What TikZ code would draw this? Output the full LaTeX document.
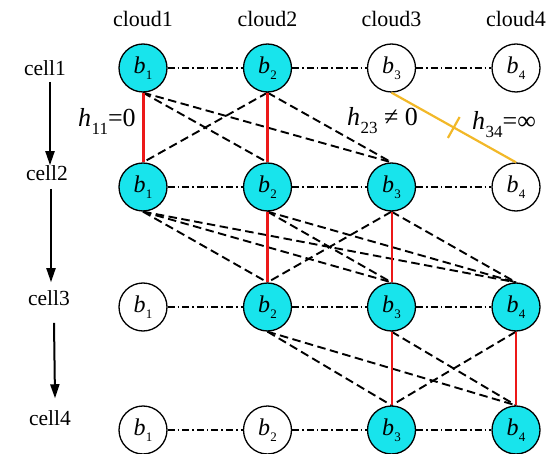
\documentclass[tikz,border=0pt]{standalone}
\usepackage{fontspec}
\setmainfont{Liberation Serif}
\usetikzlibrary{arrows.meta,decorations.markings}

\definecolor{bscyan}{RGB}{24,228,236}
\definecolor{linkred}{RGB}{236,24,24}
\definecolor{linkgold}{RGB}{242,184,40}

% b_i inside a base-station circle
\newcommand\bsub[1]{\textit{b}\kern0.3pt\raisebox{-5.5pt}{\fontsize{13}{13}\selectfont #1}}
% h_{ij} channel label
\newcommand\hsub[1]{\textit{h}\kern0.5pt\raisebox{-8pt}{\fontsize{17}{17}\selectfont #1}}

\tikzset{
  bs/.style={circle, draw, line width=1.3pt, minimum size=48pt, inner sep=0pt,
             font=\fontsize{24}{24}\selectfont},
  bson/.style={bs, fill=bscyan},
  bsoff/.style={bs, fill=white},
  head/.style={font=\fontsize{22}{22}\selectfont},
  celllab/.style={font=\fontsize{21.5}{21.5}\selectfont, inner sep=0pt},
  hlab/.style={anchor=base west, inner sep=0pt, font=\fontsize{26}{26}\selectfont},
  ring/.style={line width=1.2pt, dash pattern=on 7pt off 3pt on 1.6pt off 3pt},
  cross/.style={line width=1.9pt, dash pattern=on 8.5pt off 4.5pt},
  keep/.style={linkred, line width=#1},
  keep/.default=3pt,
  flow/.style={line width=2pt, -{Triangle[length=14pt,width=9pt]}},
  blocked/.style={linkgold, line width=2.2pt,
    postaction={decorate, decoration={markings,
      mark=at position 0.5 with {\draw[linkgold, line width=2.2pt] (0,-12pt) -- (0,12pt);}}}},
}

\begin{document}
\begin{tikzpicture}[x=1pt, y=-1pt]
\useasboundingbox (0,0) rectangle (551,454);

% column headings
\node[head] (h1) at (143,19) {cloud1};
\node[head] (h2) at (267.5,19) {cloud2};
\node[head] (h3) at (391.5,19) {cloud3};
\node[head] (h4) at (516,19) {cloud4};

% row labels
\node[celllab] (c1) at (45,68) {cell1};
\node[celllab] (c2) at (47,173) {cell2};
\node[celllab] (c3) at (49,298) {cell3};
\node[celllab] (c4) at (50,418) {cell4};

\draw[flow] ([xshift=5pt,yshift=-6pt]c1.south) -- ([xshift=3pt]c2.north);
\draw[flow] ([xshift=4pt,yshift=-8pt]c2.south) -- ([xshift=2pt,yshift=8pt]c3.north);
\draw[flow] ([xshift=5pt,yshift=-17pt]c3.south) -- ([xshift=5pt,yshift=12pt]c4.north);

% row 1
\node[bson]  (n11) at (143,68)   {\bsub{1}};
\node[bson]  (n12) at (267.5,68) {\bsub{2}};
\node[bsoff] (n13) at (391.5,68) {\bsub{3}};
\node[bsoff] (n14) at (516,68)   {\bsub{4}};
% row 2
\node[bson]  (n21) at (143,187)   {\bsub{1}};
\node[bson]  (n22) at (267.5,187) {\bsub{2}};
\node[bson]  (n23) at (391.5,187) {\bsub{3}};
\node[bsoff] (n24) at (516,187)   {\bsub{4}};
% row 3
\node[bsoff] (n31) at (143,307)   {\bsub{1}};
\node[bson]  (n32) at (267.5,307) {\bsub{2}};
\node[bson]  (n33) at (391.5,307) {\bsub{3}};
\node[bson]  (n34) at (516,307)   {\bsub{4}};
% row 4
\node[bsoff] (n41) at (143,430)   {\bsub{1}};
\node[bsoff] (n42) at (267.5,430) {\bsub{2}};
\node[bson]  (n43) at (391.5,430) {\bsub{3}};
\node[bson]  (n44) at (516,430)   {\bsub{4}};

% links inside each cell
\foreach \r in {1,2,3,4}{
  \draw[ring] (n\r1) -- (n\r2);
  \draw[ring] (n\r2) -- (n\r3);
  \draw[ring] (n\r3) -- (n\r4);
}

% cross links between consecutive cells
\draw[cross] (n11.south) -- (n22.north);
\draw[cross] (n11.south) -- (n23.north);
\draw[cross] (n12.south) -- (n21.north);
\draw[cross] (n12.south) -- (n23.north);

\draw[cross] (n21.south) -- (n32.north);
\draw[cross] (n21.south) -- (n33.north);
\draw[cross] (n21.south) -- (n34.north);
\draw[cross] (n22.south) -- (n33.north);
\draw[cross] (n22.south) -- (n34.north);
\draw[cross] (n23.south) -- (n32.north);
\draw[cross] (n23.south) -- (n34.north);

\draw[cross] (n32.south) -- (n43.north);
\draw[cross] (n32.south) -- (n44.north);
\draw[cross] (n33.south) -- (n44.north);
\draw[cross] (n34.south) -- (n43.north);

% same-cloud links
\draw[keep] (n11.south) -- (n21.north);
\draw[keep] (n12.south) -- (n22.north);
\draw[keep] (n22.south) -- (n32.north);
\draw[keep=2pt] (n23.south) -- (n33.north);
\draw[keep=2pt] (n33.south) -- (n43.north);
\draw[keep=2.2pt] (n34.south) -- (n44.north);

% blocked link
\draw[blocked] (n13.south) -- (n24.north);

% channel labels
\node[hlab] (l11) at (78,127)  {\hsub{11}=0};
\node[hlab] (l23) at (347,126) {\hsub{23} ≠ 0};
\node[hlab] (l34) at (472,130) {\hsub{34}=∞};
\end{tikzpicture}
\end{document}
